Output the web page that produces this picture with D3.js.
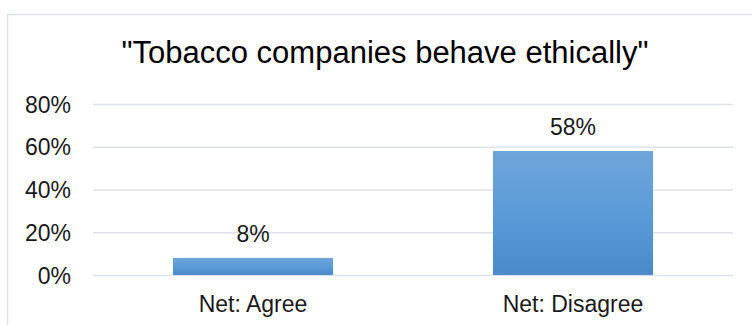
<!DOCTYPE html>
<html>
<head>
<meta charset="utf-8">
<script src="https://cdn.jsdelivr.net/npm/d3@7"></script>
<style>
  body { margin: 0; background: #fff; }
  text { font-family: "Liberation Sans", Arial, sans-serif; }
</style>
</head>
<body>
<div id="chart"></div>
<script>
// chart data
var categories = ["Net: Agree", "Net: Disagree"];
var values = [0.08, 0.58];
var yTicks = [0, 0.2, 0.4, 0.6, 0.8];
var title = "\"Tobacco companies behave ethically\"";

var W = 752, H = 325;
var margin = {top: 104, right: 19, bottom: 50, left: 93},
  width = W - margin.left - margin.right,
  height = 275 - margin.top;

var svg = d3.select("#chart")
  .append("svg")
    .attr("width", W)
    .attr("height", H);

// outer frame (runs off the right and bottom edge)
svg.append("rect")
  .attr("x", 7.5).attr("y", 14.5)
  .attr("width", W + 20).attr("height", H + 20)
  .attr("fill", "none")
  .attr("stroke", "#dfe2e7")
  .attr("stroke-width", 1.5);

// gradient for the bars
var grad = svg.append("defs").append("linearGradient")
  .attr("id", "barGrad")
  .attr("x1", 0).attr("y1", 0).attr("x2", 0).attr("y2", 1);
grad.append("stop").attr("offset", "0%").attr("stop-color", "#70a6da");
grad.append("stop").attr("offset", "50%").attr("stop-color", "#5b9bd8");
grad.append("stop").attr("offset", "100%").attr("stop-color", "#4a8acb");

svg.append("text")
  .attr("x", 385).attr("y", 63)
  .attr("text-anchor", "middle")
  .style("font-size", "31px")
  .style("fill", "#000")
  .text(title);

var g = svg.append("g")
  .attr("transform", "translate(" + margin.left + "," + margin.top + ")");

var x = d3.scaleBand()
  .domain(categories)
  .range([0, width])
  .paddingInner(0.5)
  .paddingOuter(0.25);

var y = d3.scaleLinear()
  .domain([0, 0.8])
  .range([height, 0]);

// y axis with gridlines
var yAxis = g.append("g")
  .call(d3.axisLeft(y)
    .tickValues(yTicks)
    .tickSize(-width)
    .tickPadding(22)
    .tickFormat(d3.format(".0%")));
yAxis.select(".domain").remove();
yAxis.selectAll("line")
  .attr("stroke", "#dfe2e7")
  .attr("stroke-width", 1.5);
yAxis.selectAll("text")
  .style("font-size", "23px")
  .style("fill", "#1a1a1a")
  .attr("dy", "0.35em");

// bars
g.selectAll(".bar")
  .data(values)
  .enter().append("rect")
    .attr("class", "bar")
    .attr("x", function(d, i) { return x(categories[i]); })
    .attr("y", function(d) { return y(d); })
    .attr("width", x.bandwidth())
    .attr("height", function(d) { return height - y(d); })
    .attr("fill", "url(#barGrad)");

// value labels
g.selectAll(".val")
  .data(values)
  .enter().append("text")
    .attr("class", "val")
    .attr("x", function(d, i) { return x(categories[i]) + x.bandwidth() / 2; })
    .attr("y", function(d) { return y(d) - 16; })
    .attr("text-anchor", "middle")
    .style("font-size", "23px")
    .style("fill", "#1a1a1a")
    .text(function(d) { return d3.format(".0%")(d); });

// category labels
g.selectAll(".cat")
  .data(categories)
  .enter().append("text")
    .attr("class", "cat")
    .attr("x", function(d) { return x(d) + x.bandwidth() / 2; })
    .attr("y", height + 37)
    .attr("text-anchor", "middle")
    .style("font-size", "23px")
    .style("fill", "#1a1a1a")
    .text(function(d) { return d; });
</script>
</body>
</html>
